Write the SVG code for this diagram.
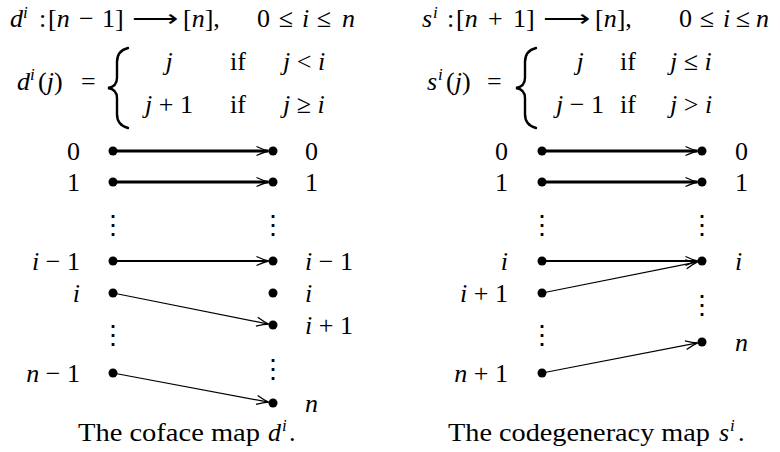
<svg xmlns="http://www.w3.org/2000/svg" width="780" height="452" viewBox="0 0 780 452">
<defs>
<style>
text { font-family: "Liberation Serif", "Times New Roman", serif; font-size: 26px; fill: #000; }
.it { font-style: italic; }
.sup { font-size: 17px; font-style: italic; }
.vd { font-family: "DejaVu Serif", serif; font-size: 26px; text-anchor: middle; fill: #000; }
.end { text-anchor: end; }
.mid { text-anchor: middle; }
.dot { fill: #000; }
.thick { stroke: #000; stroke-width: 2.8; fill: none; }
.med { stroke: #000; stroke-width: 1.8; fill: none; }
.thin { stroke: #000; stroke-width: 1.2; fill: none; }
.brace { stroke: #000; stroke-width: 2.4; fill: none; stroke-linecap: round; }
</style>
<marker id="ah" markerUnits="userSpaceOnUse" markerWidth="20" markerHeight="14" viewBox="-14 -7 16 14" refX="0" refY="0" orient="auto">
<path d="M-12,-4.5 Q-5,-1.2 0,0 Q-5,1.2 -12,4.5" stroke="#000" stroke-width="1.3" fill="none"/>
</marker>
</defs>
<rect width="780" height="452" fill="#fff"/>

<g id="header-left">
<text x="10" y="27" class="it">d</text><text x="23" y="18" class="sup">i</text>
<text x="39" y="27">:</text>
<text x="48" y="27">[<tspan class="it">n</tspan></text>
<text x="79" y="27">−</text>
<text x="102" y="27">1]</text>
<text x="132" y="27" textLength="46" lengthAdjust="spacingAndGlyphs" font-family="DejaVu Serif">⟶</text>
<text x="183" y="27">[<tspan class="it">n</tspan>],</text>
<text x="257" y="27">0</text>
<text x="286" y="27" class="mid">≤</text>
<text x="302" y="27" class="it">i</text>
<text x="324" y="27" class="mid">≤</text>
<text x="342" y="27" class="it">n</text>

<text x="17" y="90" class="it">d</text><text x="30" y="80" class="sup">i</text>
<text x="38" y="90">(<tspan class="it">j</tspan>)</text>
<text x="81" y="90">=</text>
<path class="brace" d="M128,48 C120,50 117,55 117,62 L117,78 C117,84 114,87 108,88 C114,89 117,92 117,98 L117,114 C117,121 120,126 128,128"/>
<text x="169" y="70" class="it mid">j</text>
<text x="169" y="113" class="mid"><tspan class="it">j</tspan> + 1</text>
<text x="230" y="70">if</text>
<text x="230" y="113">if</text>
<text x="283" y="70"><tspan class="it">j</tspan> &lt; <tspan class="it">i</tspan></text>
<text x="283" y="113"><tspan class="it">j</tspan> ≥ <tspan class="it">i</tspan></text>
</g>

<g id="header-right">
<text x="422" y="27" class="it">s</text><text x="433" y="18" class="sup">i</text>
<text x="447" y="27">:</text>
<text x="456" y="27">[<tspan class="it">n</tspan></text>
<text x="488" y="27">+</text>
<text x="513" y="27">1]</text>
<text x="543" y="27" textLength="47" lengthAdjust="spacingAndGlyphs" font-family="DejaVu Serif">⟶</text>
<text x="595" y="27">[<tspan class="it">n</tspan>],</text>
<text x="679" y="27">0</text>
<text x="707" y="27" class="mid">≤</text>
<text x="723" y="27" class="it">i</text>
<text x="743" y="27" class="mid">≤</text>
<text x="756" y="27" class="it">n</text>

<text x="427" y="90" class="it">s</text><text x="438" y="80" class="sup">i</text>
<text x="446" y="90">(<tspan class="it">j</tspan>)</text>
<text x="487" y="90">=</text>
<path class="brace" d="M536,48 C528,50 525,55 525,62 L525,78 C525,84 522,87 516,88 C522,89 525,92 525,98 L525,114 C525,121 528,126 536,128"/>
<text x="580" y="70" class="it mid">j</text>
<text x="580" y="113" class="mid"><tspan class="it">j</tspan> − 1</text>
<text x="620" y="70">if</text>
<text x="620" y="113">if</text>
<text x="670" y="70"><tspan class="it">j</tspan> ≤ <tspan class="it">i</tspan></text>
<text x="670" y="113"><tspan class="it">j</tspan> &gt; <tspan class="it">i</tspan></text>
</g>

<g id="connectors">
<line class="thick" x1="113" y1="151" x2="268.5" y2="151" marker-end="url(#ah)"/>
<line class="thick" x1="113" y1="182" x2="268.5" y2="182" marker-end="url(#ah)"/>
<line class="med" x1="113" y1="261" x2="268.5" y2="261" marker-end="url(#ah)"/>
<line class="thin" x1="113" y1="293" x2="268.6" y2="324.1" marker-end="url(#ah)"/>
<line class="thin" x1="113" y1="373" x2="268.6" y2="402.2" marker-end="url(#ah)"/>
<line class="thick" x1="542" y1="151" x2="697.5" y2="151" marker-end="url(#ah)"/>
<line class="thick" x1="542" y1="182" x2="697.5" y2="182" marker-end="url(#ah)"/>
<line class="med" x1="542" y1="261" x2="697.5" y2="261" marker-end="url(#ah)"/>
<line class="thin" x1="542" y1="293" x2="697.6" y2="261.9" marker-end="url(#ah)"/>
<line class="thin" x1="542" y1="373" x2="697.6" y2="342.9" marker-end="url(#ah)"/>
</g>

<g id="coface-domain">
<g id="d-src-0"><circle class="dot" cx="113" cy="151" r="4.5"/><text x="80" y="160" class="end">0</text></g>
<g id="d-src-1"><circle class="dot" cx="113" cy="182" r="4.5"/><text x="80" y="191" class="end">1</text></g>
<g id="d-src-im1"><circle class="dot" cx="113" cy="261" r="4.5"/><text x="80" y="270" class="end"><tspan class="it">i</tspan> − 1</text></g>
<g id="d-src-i"><circle class="dot" cx="113" cy="293" r="4.5"/><text x="80" y="302" class="end it">i</text></g>
<g id="d-src-nm1"><circle class="dot" cx="113" cy="373" r="4.5"/><text x="80" y="382" class="end"><tspan class="it">n</tspan> − 1</text></g>
</g>
<g id="coface-codomain">
<g id="d-tgt-0"><circle class="dot" cx="273" cy="151" r="4.5"/><text x="305" y="160">0</text></g>
<g id="d-tgt-1"><circle class="dot" cx="273" cy="182" r="4.5"/><text x="305" y="191">1</text></g>
<g id="d-tgt-im1"><circle class="dot" cx="273" cy="261" r="4.5"/><text x="305" y="270"><tspan class="it">i</tspan> − 1</text></g>
<g id="d-tgt-i"><circle class="dot" cx="273" cy="293" r="4.5"/><text x="305" y="302" class="it">i</text></g>
<g id="d-tgt-ip1"><circle class="dot" cx="273" cy="325" r="4.5"/><text x="305" y="334"><tspan class="it">i</tspan> + 1</text></g>
<g id="d-tgt-n"><circle class="dot" cx="273" cy="403" r="4.5"/><text x="305" y="412" class="it">n</text></g>
</g>
<g id="codeg-domain">
<g id="s-src-0"><circle class="dot" cx="542" cy="151" r="4.5"/><text x="508" y="160" class="end">0</text></g>
<g id="s-src-1"><circle class="dot" cx="542" cy="182" r="4.5"/><text x="508" y="191" class="end">1</text></g>
<g id="s-src-i"><circle class="dot" cx="542" cy="261" r="4.5"/><text x="508" y="270" class="end it">i</text></g>
<g id="s-src-ip1"><circle class="dot" cx="542" cy="293" r="4.5"/><text x="508" y="302" class="end"><tspan class="it">i</tspan> + 1</text></g>
<g id="s-src-np1"><circle class="dot" cx="542" cy="373" r="4.5"/><text x="508" y="382" class="end"><tspan class="it">n</tspan> + 1</text></g>
</g>
<g id="codeg-codomain">
<g id="s-tgt-0"><circle class="dot" cx="702" cy="151" r="4.5"/><text x="735" y="160">0</text></g>
<g id="s-tgt-1"><circle class="dot" cx="702" cy="182" r="4.5"/><text x="735" y="191">1</text></g>
<g id="s-tgt-i"><circle class="dot" cx="702" cy="261" r="4.5"/><text x="735" y="270" class="it">i</text></g>
<g id="s-tgt-n"><circle class="dot" cx="702" cy="342" r="4.5"/><text x="735" y="351" class="it">n</text></g>
</g>

<g id="vdots">
<text class="vd" x="113" y="234">⋮</text>
<text class="vd" x="273" y="234">⋮</text>
<text class="vd" x="113" y="344">⋮</text>
<text class="vd" x="273" y="378">⋮</text>
<text class="vd" x="542" y="234">⋮</text>
<text class="vd" x="702" y="234">⋮</text>
<text class="vd" x="542" y="344">⋮</text>
<text class="vd" x="702" y="314">⋮</text>
</g>

<g id="captions">
<text x="78" y="441" textLength="182" lengthAdjust="spacingAndGlyphs">The coface map</text>
<text x="268" y="441" class="it">d</text><text x="282" y="431" class="sup">i</text><text x="289" y="441">.</text>
<text x="448" y="441" textLength="262" lengthAdjust="spacingAndGlyphs">The codegeneracy map</text>
<text x="719" y="441" class="it">s</text><text x="730" y="431" class="sup">i</text><text x="738" y="441">.</text>
</g>
</svg>
